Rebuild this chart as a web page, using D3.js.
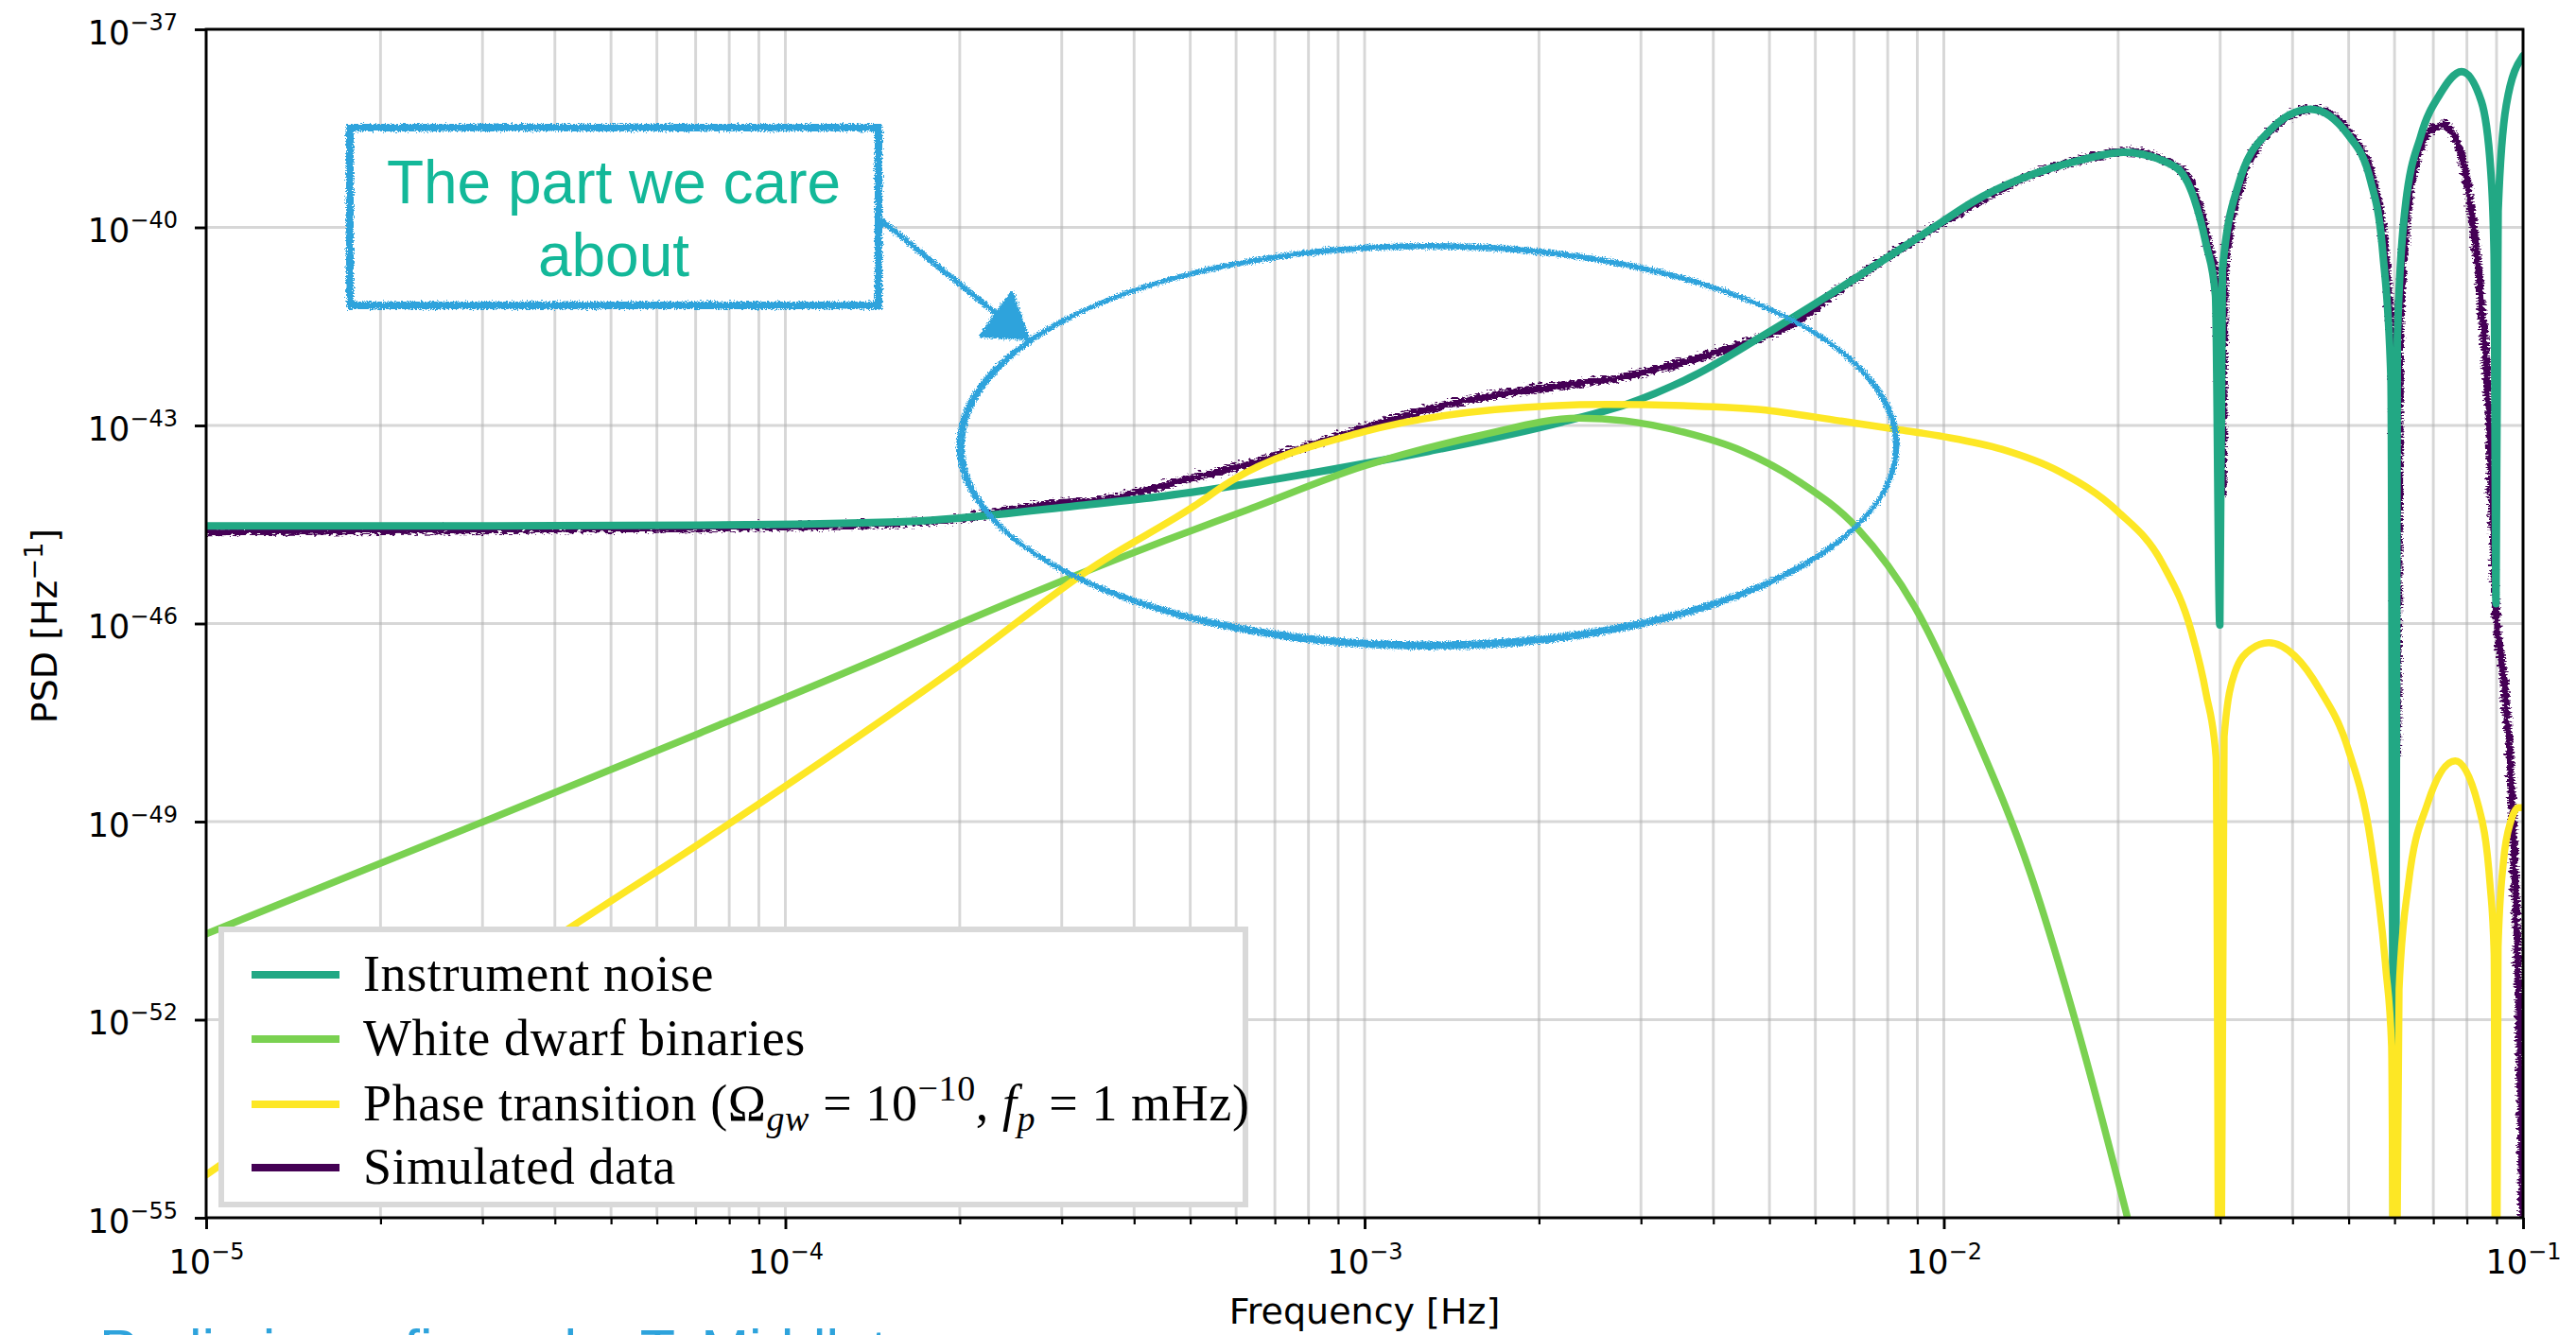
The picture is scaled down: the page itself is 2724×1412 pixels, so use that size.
<!DOCTYPE html>
<html lang="en">
<head>
  <meta charset="UTF-8">
  <title>PSD components</title>
  <script src="https://d3js.org/d3.v7.min.js"></script>
  <style>
    body { margin: 0; background: #fff; }
    svg { display: block; }
  </style>
</head>
<body>
  <svg id="chart"></svg>
  <script>
    // values, as [log10 f, log10 PSD]
    const noisePts = [
      [-5.0, -44.52], [-4.5, -44.52], [-4.148, -44.51], [-3.805, -44.46], [-3.697, -44.40],
      [-3.5, -44.22], [-3.347, -44.07], [-3.118, -43.76], [-2.889, -43.39], [-2.660, -42.95],
      [-2.545, -42.67], [-2.430, -42.24], [-2.316, -41.66], [-2.201, -41.04], [-2.009, -39.95],
      [-1.951, -39.62], [-1.866, -39.26], [-1.764, -38.98], [-1.690, -38.86], [-1.601, -39.08],
      [-1.568, -39.56], [-1.547, -40.26], [-1.531, -41.03], [-1.5235, -46.02], [-1.519, -40.65],
      [-1.492, -39.37], [-1.438, -38.54], [-1.367, -38.21], [-1.302, -38.60], [-1.263, -39.30],
      [-1.242, -40.39], [-1.228, -42.31], [-1.2218, -60], [-1.217, -41.67], [-1.204, -39.75],
      [-1.176, -38.60], [-1.144, -37.99], [-1.106, -37.64], [-1.072, -38.09], [-1.056, -39.11],
      [-1.050, -40.39], [-1.0467, -45.70], [-1.043, -39.75], [-1.029, -38.15], [-1.0, -37.40]
    ];
    const wdPts = [
      [-5.0, -50.70], [-4.521, -49.0], [-4.148, -47.66], [-3.805, -46.40], [-3.697, -45.99],
      [-3.347, -44.75], [-3.2, -44.27], [-3.003, -43.62], [-2.8, -43.15], [-2.63, -42.89],
      [-2.55, -42.93], [-2.45, -43.10], [-2.35, -43.38], [-2.25, -43.85], [-2.15, -44.55],
      [-2.05, -45.75], [-1.95, -47.6], [-1.85, -49.8], [-1.769, -52.14], [-1.682, -55.03],
      [-1.64, -56.5]
    ];
    const ptPts = [
      [-5.0, -54.35], [-4.374, -50.62], [-4.148, -49.33], [-3.713, -46.72], [-3.461, -45.10],
      [-3.294, -44.22], [-3.232, -43.85], [-3.003, -43.10], [-2.775, -42.76], [-2.580, -42.68],
      [-2.450, -42.70], [-2.316, -42.76], [-2.180, -42.93], [-2.080, -43.06], [-2.0, -43.17],
      [-1.9, -43.36], [-1.8, -43.70], [-1.7, -44.30], [-1.622, -45.10], [-1.573, -46.11],
      [-1.547, -47.07], [-1.530, -48.03], [-1.5235, -60], [-1.516, -47.71], [-1.498, -46.75],
      [-1.470, -46.39], [-1.439, -46.29], [-1.394, -46.49], [-1.351, -47.0], [-1.302, -47.9],
      [-1.263, -49.3], [-1.237, -51.22], [-1.227, -52.4], [-1.2218, -60], [-1.214, -51.54],
      [-1.198, -49.95], [-1.165, -48.73], [-1.117, -48.08], [-1.078, -48.73], [-1.057, -49.95],
      [-1.050, -51.0], [-1.0467, -60], [-1.043, -50.9], [-1.034, -49.62], [-1.021, -48.99],
      [-1.008, -48.79], [-1.0, -48.79]
    ];
    const simPts = [
      [-5.0, -44.58], [-4.7, -44.56], [-4.4, -44.54], [-4.148, -44.52], [-3.805, -44.45],
      [-3.7, -44.38], [-3.576, -44.19], [-3.427, -44.05], [-3.324, -43.81], [-3.232, -43.62],
      [-3.118, -43.33], [-3.003, -43.0], [-2.889, -42.71], [-2.775, -42.50], [-2.660, -42.36],
      [-2.545, -42.21], [-2.488, -42.09], [-2.430, -41.95], [-2.362, -41.76], [-2.25, -41.35],
      [-2.201, -41.02], [-2.009, -39.92], [-1.866, -39.22], [-1.764, -38.94], [-1.690, -38.82],
      [-1.601, -39.05], [-1.568, -39.52], [-1.547, -40.22], [-1.531, -41.0], [-1.5235, -44.0],
      [-1.519, -40.62], [-1.492, -39.33], [-1.438, -38.50], [-1.367, -38.17], [-1.302, -38.56],
      [-1.263, -39.26], [-1.242, -40.35], [-1.228, -42.3], [-1.2218, -48], [-1.217, -41.7],
      [-1.204, -39.8], [-1.176, -38.65], [-1.160, -38.48], [-1.141, -38.41], [-1.111, -38.86],
      [-1.084, -40.39], [-1.062, -42.95], [-1.051, -45.7], [-1.034, -47.07], [-1.021, -48.99],
      [-1.014, -50.9], [-1.008, -52.83], [-1.0045, -55], [-1.0, -57]
    ];

    const xExps = [-5, -4, -3, -2, -1];
    const yExps = [-37, -40, -43, -46, -49, -52, -55];

    const legendLabels = ["Instrument noise", "White dwarf binaries", "Phase transition", "Simulated data"];
    const legendColors = ["#22a884", "#7ad151", "#fde725", "#440154"];

    const W = 2724, H = 1412;
    const margin = { top: 31, right: 56, bottom: 124, left: 218 };

    const svg = d3.select("#chart").attr("width", W).attr("height", H);

    const x = d3.scaleLog().domain([1e-5, 1e-1]).range([margin.left, W - margin.right]);
    const y = d3.scaleLog().domain([1e-55, 1e-37]).range([H - margin.bottom, margin.top]);

    const defs = svg.append("defs");
    defs.append("clipPath").attr("id", "plotclip")
      .append("rect")
      .attr("x", margin.left).attr("y", margin.top)
      .attr("width", W - margin.left - margin.right)
      .attr("height", H - margin.top - margin.bottom);

    // crayon look for the annotation
    const rough = defs.append("filter").attr("id", "rough")
      .attr("x", "-5%").attr("y", "-5%").attr("width", "110%").attr("height", "110%");
    rough.append("feTurbulence").attr("type", "fractalNoise").attr("baseFrequency", 0.7)
      .attr("numOctaves", 2).attr("seed", 4).attr("result", "n");
    rough.append("feDisplacementMap").attr("in", "SourceGraphic").attr("in2", "n")
      .attr("scale", 7).attr("xChannelSelector", "R").attr("yChannelSelector", "G");

    // fuzzy edge for the simulated data line
    const fuzz = defs.append("filter").attr("id", "fuzz")
      .attr("x", "-2%").attr("y", "-2%").attr("width", "104%").attr("height", "104%");
    fuzz.append("feTurbulence").attr("type", "turbulence").attr("baseFrequency", "0.12 0.35")
      .attr("numOctaves", 2).attr("seed", 7).attr("result", "n");
    fuzz.append("feDisplacementMap").attr("in", "SourceGraphic").attr("in2", "n")
      .attr("scale", 9).attr("xChannelSelector", "R").attr("yChannelSelector", "G");

    // grid
    const allX = x.ticks();
    svg.append("g").selectAll("line").data(allX).join("line")
      .attr("x1", d => x(d)).attr("x2", d => x(d))
      .attr("y1", margin.top).attr("y2", H - margin.bottom)
      .attr("stroke", "#b0b0b0").attr("stroke-opacity", 0.5).attr("stroke-width", 2.9);
    svg.append("g").selectAll("line").data(yExps).join("line")
      .attr("x1", margin.left).attr("x2", W - margin.right)
      .attr("y1", d => y(Math.pow(10, d))).attr("y2", d => y(Math.pow(10, d)))
      .attr("stroke", "#b0b0b0").attr("stroke-opacity", 0.5).attr("stroke-width", 2.9);

    // curves
    const line = d3.line()
      .x(d => x(Math.pow(10, d[0])))
      .y(d => y(Math.pow(10, d[1])))
      .curve(d3.curveMonotoneX);

    const curves = svg.append("g").attr("clip-path", "url(#plotclip)");
    const series = [
      { pts: simPts, color: legendColors[3], w: 8, filter: "url(#fuzz)" },
      { pts: noisePts, color: legendColors[0], w: 8 },
      { pts: wdPts, color: legendColors[1], w: 7.5 },
      { pts: ptPts, color: legendColors[2], w: 7.5 }
    ];
    series.forEach(s => {
      curves.append("g").attr("filter", s.filter || null)
        .append("path")
        .attr("d", line(s.pts))
        .attr("fill", "none")
        .attr("stroke", s.color)
        .attr("stroke-width", s.w)
        .attr("stroke-linejoin", "round")
        .attr("stroke-linecap", "round");
    });

    // axes
    function powLabel(textSel, e) {
      textSel.text(null);
      textSel.append("tspan").text("10");
      textSel.append("tspan").attr("dy", -15).attr("font-size", 24).text("\u2212" + Math.abs(e));
    }

    const xMinor = allX.filter(d => !xExps.some(e => Math.abs(Math.log10(d) - e) < 1e-6));
    svg.append("g")
      .attr("transform", `translate(0,${H - margin.bottom})`)
      .call(d3.axisBottom(x).tickValues(xMinor).tickSize(7).tickFormat(""))
      .call(g => g.select(".domain").remove())
      .call(g => g.selectAll("line").attr("stroke-width", 2.2));

    const gx = svg.append("g")
      .attr("transform", `translate(0,${H - margin.bottom})`)
      .call(d3.axisBottom(x).tickValues(xExps.map(e => Math.pow(10, e))).tickSize(12).tickSizeOuter(0));
    gx.select(".domain").remove();
    gx.selectAll("line").attr("stroke-width", 2.9);
    gx.selectAll("text")
      .attr("y", 59).attr("dy", null)
      .attr("font-family", "DejaVu Sans, sans-serif").attr("font-size", 35)
      .each(function(d) { powLabel(d3.select(this), Math.round(Math.log10(d))); });

    const gy = svg.append("g")
      .attr("transform", `translate(${margin.left},0)`)
      .call(d3.axisLeft(y).tickValues(yExps.map(e => Math.pow(10, e))).tickSize(12).tickPadding(18).tickSizeOuter(0));
    gy.select(".domain").remove();
    gy.selectAll("line").attr("stroke-width", 2.9);
    gy.selectAll("text")
      .attr("y", 15).attr("dy", null)
      .attr("font-family", "DejaVu Sans, sans-serif").attr("font-size", 35)
      .each(function(d) { powLabel(d3.select(this), Math.round(Math.log10(d))); });

    // frame
    svg.append("rect")
      .attr("x", margin.left).attr("y", margin.top)
      .attr("width", W - margin.left - margin.right)
      .attr("height", H - margin.top - margin.bottom)
      .attr("fill", "none").attr("stroke", "#000").attr("stroke-width", 2.9);

    // axis labels
    svg.append("text")
      .attr("x", (margin.left + W - margin.right) / 2).attr("y", 1400)
      .attr("text-anchor", "middle")
      .attr("font-family", "DejaVu Sans, sans-serif").attr("font-size", 38)
      .text("Frequency [Hz]");

    const yl = svg.append("text")
      .attr("transform", `translate(60,662) rotate(-90)`)
      .attr("text-anchor", "middle")
      .attr("font-family", "DejaVu Sans, sans-serif").attr("font-size", 38);
    yl.append("tspan").text("PSD [Hz");
    yl.append("tspan").attr("dy", -15).attr("font-size", 27).text("\u22121");
    yl.append("tspan").attr("dy", 15).text("]");

    // legend
    const lg = svg.append("g");
    lg.append("rect")
      .attr("x", 234).attr("y", 983).attr("width", 1083).attr("height", 291)
      .attr("fill", "#fff").attr("stroke", "#d9d9d9").attr("stroke-width", 6);
    const rowY = [1031, 1099, 1168, 1235];
    const serif = "'Liberation Serif', 'Times New Roman', serif";
    legendLabels.forEach((lab, i) => {
      lg.append("line")
        .attr("x1", 266).attr("x2", 359).attr("y1", rowY[i]).attr("y2", rowY[i])
        .attr("stroke", legendColors[i]).attr("stroke-width", 8);
      const t = lg.append("text")
        .attr("x", 384).attr("y", rowY[i] + 17)
        .attr("font-family", serif).attr("font-size", 54)
        .attr("letter-spacing", 0.6);
      if (i === 2) {
        t.append("tspan").text(lab + " (\u03a9");
        t.append("tspan").attr("font-style", "italic").attr("font-size", 38).attr("dy", 11).text("gw");
        t.append("tspan").attr("dy", -11).text(" = 10");
        t.append("tspan").attr("font-size", 38).attr("dy", -21).text("\u221210");
        t.append("tspan").attr("dy", 21).text(", ");
        t.append("tspan").attr("font-style", "italic").text("f");
        t.append("tspan").attr("font-style", "italic").attr("font-size", 38).attr("dy", 11).text("p");
        t.append("tspan").attr("dy", -11).text(" = 1 mHz)");
      } else {
        t.text(lab);
      }
    });

    // hand-drawn annotation
    const blue = "#2ea3dc";
    const ann = svg.append("g");
    ann.append("rect")
      .attr("x", 368).attr("y", 134).attr("width", 563).attr("height", 191)
      .attr("fill", "#fff").attr("stroke", "none");
    const annRough = ann.append("g").attr("filter", "url(#rough)");
    annRough.append("rect")
      .attr("x", 370).attr("y", 135).attr("width", 559).attr("height", 188)
      .attr("fill", "none").attr("stroke", blue).attr("stroke-width", 8);
    annRough.append("path")
      .attr("d", "M932,233 L1055,333")
      .attr("fill", "none").attr("stroke", blue).attr("stroke-width", 6);
    annRough.append("path")
      .attr("d", "M1070,310 L1037,355 L1087,358 Z")
      .attr("fill", blue).attr("stroke", blue).attr("stroke-width", 4).attr("stroke-linejoin", "round");
    annRough.append("ellipse")
      .attr("cx", 1510).attr("cy", 471).attr("rx", 496).attr("ry", 210)
      .attr("fill", "none").attr("stroke", blue).attr("stroke-width", 5);
    annRough.append("ellipse")
      .attr("cx", 1511).attr("cy", 472).attr("rx", 493).attr("ry", 213)
      .attr("fill", "none").attr("stroke", blue).attr("stroke-width", 4);

    ann.append("text")
      .attr("x", 649).attr("y", 215).attr("text-anchor", "middle")
      .attr("font-family", "'Liberation Sans', Arial, sans-serif").attr("font-size", 64)
      .attr("fill", "#13b899").text("The part we care");
    ann.append("text")
      .attr("x", 649).attr("y", 292).attr("text-anchor", "middle")
      .attr("font-family", "'Liberation Sans', Arial, sans-serif").attr("font-size", 64)
      .attr("fill", "#13b899").text("about");

    // caption cut off at the very bottom, as in the reference
    svg.append("text")
      .attr("x", 105).attr("y", 1449)
      .attr("font-family", "'Liberation Sans', Arial, sans-serif").attr("font-size", 61)
      .attr("fill", blue).text("Preliminary figure by T. Middleton");
  </script>
</body>
</html>
